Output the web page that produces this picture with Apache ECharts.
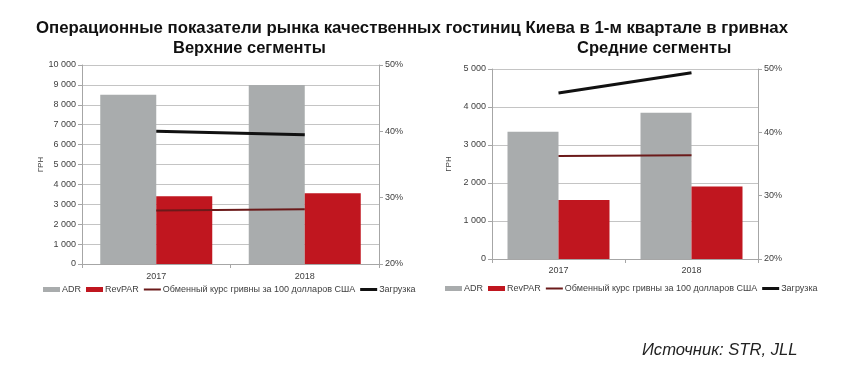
<!DOCTYPE html>
<html><head><meta charset="utf-8">
<script src="https://cdn.jsdelivr.net/npm/echarts@6/dist/echarts.min.js"></script>
<style>html,body{margin:0;padding:0;background:#fff}#c{width:850px;height:380px}</style>
</head><body><div id="c"></div>
<script>
const categories = ['2017', '2018'];
const upperADR = [8500, 9000];
const upperRevPAR = [3400, 3550];
const upperRate = [2690, 2750];
const upperOcc = [40.0, 39.5];
const midADR = [3350, 3850];
const midRevPAR = [1550, 1910];
const midRate = [2710, 2730];
const midOcc = [46.2, 49.4];
const legendNames = ['ADR', 'RevPAR', 'Обменный курс гривны за 100 долларов США', 'Загрузка'];

const FONT = '"Liberation Sans", Arial, sans-serif';
const GREY = '#a9acad', RED = '#c0161f', RATE = '#6b1a1a', OCC = '#111111';
const AX = '#a6a6a6', GRID = '#c4c4c4', LBL = '#404040';
const fmt = v => String(v).replace(/\B(?=(\d{3})+(?!\d))/g, ' ');

function xAx(gi, margin) {
  return { type: 'category', gridIndex: gi, data: categories,
    axisLine: { lineStyle: { color: AX } },
    axisTick: { show: true, alignWithLabel: false, length: 4, lineStyle: { color: AX } },
    axisLabel: { fontFamily: FONT, fontSize: 9, color: LBL, margin: margin } };
}
function yLeft(gi, max, interval, gap) {
  return { type: 'value', gridIndex: gi, min: 0, max: max, interval: interval,
    name: 'ГРН', nameLocation: 'middle', nameGap: gap, nameRotate: 90,
    nameTextStyle: { fontFamily: FONT, fontSize: 8, color: LBL },
    axisLine: { show: true, lineStyle: { color: AX } },
    axisTick: { show: true, length: 4, lineStyle: { color: AX } },
    splitLine: { show: true, lineStyle: { color: GRID } },
    axisLabel: { fontFamily: FONT, fontSize: 9, color: LBL, margin: 6, formatter: fmt } };
}
function yRight(gi) {
  return { type: 'value', gridIndex: gi, position: 'right', min: 20, max: 50, interval: 10,
    axisLine: { show: true, lineStyle: { color: AX } },
    axisTick: { show: true, length: 4, lineStyle: { color: AX } },
    splitLine: { show: false },
    axisLabel: { fontFamily: FONT, fontSize: 9, color: LBL, margin: 6, formatter: v => v + '%' } };
}
function seriesFor(gi, adr, rev, rate, occ, bw) {
  const xi = gi, yl = gi * 2, yr = gi * 2 + 1;
  return [
    { name: legendNames[0], type: 'bar', xAxisIndex: xi, yAxisIndex: yl, data: adr, barWidth: bw, barGap: '0%', itemStyle: { color: GREY } },
    { name: legendNames[1], type: 'bar', xAxisIndex: xi, yAxisIndex: yl, data: rev, barWidth: bw, barGap: '0%', itemStyle: { color: RED } },
    { name: legendNames[2], type: 'line', xAxisIndex: xi, yAxisIndex: yl, data: rate, symbol: 'none', itemStyle: { color: RATE }, lineStyle: { color: RATE, width: 2 }, z: 5 },
    { name: legendNames[3], type: 'line', xAxisIndex: xi, yAxisIndex: yr, data: occ, symbol: 'none', itemStyle: { color: OCC }, lineStyle: { color: OCC, width: 3 }, z: 5 }
  ];
}
function legendFor(left, top) {
  return { left: left, top: top, itemWidth: 17, itemHeight: 5, itemGap: 5, padding: 0,
    textStyle: { fontFamily: FONT, fontSize: 9, color: LBL, padding: [0, 0, 0, -3] },
    data: [
      { name: legendNames[0], icon: 'rect' },
      { name: legendNames[1], icon: 'rect' },
      { name: legendNames[2], icon: 'path://M0,0M0,5M0,1.5H17V3.5H0Z', itemStyle: { color: RATE } },
      { name: legendNames[3], icon: 'path://M0,0M0,5M0,1H17V4H0Z', itemStyle: { color: OCC } }
    ], selectedMode: false };
}

const chart = echarts.init(document.getElementById('c'), null, { renderer: 'canvas' });
chart.setOption({
  animation: false,
  backgroundColor: '#fff',
  title: [
    { text: 'Операционные показатели рынка качественных гостиниц Киева в 1-м квартале в гривнах', left: 36, top: 20, padding: 0,
      textStyle: { fontFamily: FONT, fontSize: 16.8, fontWeight: 'bold', color: '#111' } },
    { text: 'Верхние сегменты', left: 173, top: 40, padding: 0,
      textStyle: { fontFamily: FONT, fontSize: 16.5, fontWeight: 'bold', color: '#111' } },
    { text: 'Средние сегменты', left: 577, top: 40, padding: 0,
      textStyle: { fontFamily: FONT, fontSize: 16.5, fontWeight: 'bold', color: '#111' } },
    { text: 'Источник: STR, JLL', left: 642, top: 342, padding: 0,
      textStyle: { fontFamily: FONT, fontSize: 16.6, fontStyle: 'italic', fontWeight: 'normal', color: '#222' } }
  ],
  legend: [ legendFor(43, 285), legendFor(445, 284) ],
  grid: [
    { left: 82, right: 471, top: 65, bottom: 116 },
    { left: 492, right: 92, top: 69, bottom: 121 }
  ],
  xAxis: [ xAx(0, 8), xAx(1, 7) ],
  yAxis: [ yLeft(0, 10000, 1000, 33), yRight(0), yLeft(1, 5000, 1000, 39), yRight(1) ],
  series: [].concat(
    seriesFor(0, upperADR, upperRevPAR, upperRate, upperOcc, 56),
    seriesFor(1, midADR, midRevPAR, midRate, midOcc, 51)
  )
});
</script></body></html>
